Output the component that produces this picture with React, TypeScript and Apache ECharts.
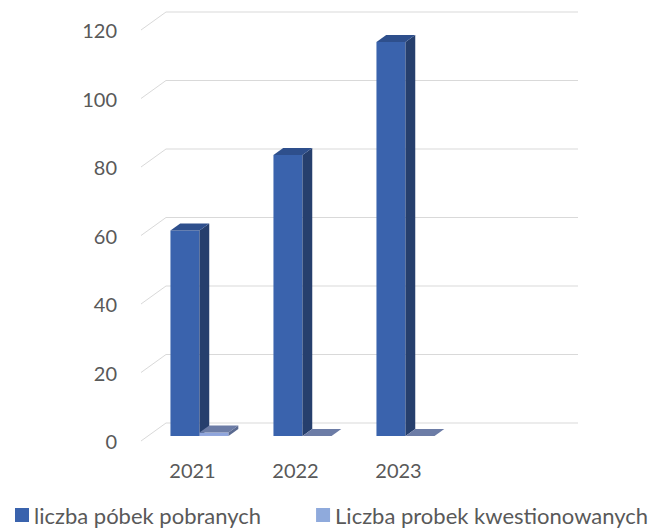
import React, { useEffect, useRef } from 'react';
import * as echarts from 'echarts';

const categories = ['2021', '2022', '2023', ''];
const seriesNames = ['liczba póbek pobranych', 'Liczba probek kwestionowanych'];
const pobrane = [60, 82, 115];
const kwestionowane = [1, 0, 0];
const yTicks = [0, 20, 40, 60, 80, 100, 120];

const DX = 25;
const DY = -18;
const D0 = 0.28;
const D1 = 0.67;
const FONT = 'Lato';

type Faces = { front: string; side: string; top: string };

function make3DBar(faces: Faces, slot: number) {
  return (params: any, api: any) => {
    const idx = api.value(0);
    const val = api.value(1);
    const band = api.size([1, 0])[0];
    const c = api.coord([idx, val]);
    const b = api.coord([idx, 0]);
    const w = band * 0.282;
    const x0 = c[0] + (slot === 0 ? -w : 0);
    const x1 = x0 + w;
    const yt = c[1];
    const yb = b[1];
    const ax = D0 * DX, ay = D0 * DY;
    const bx = D1 * DX, by = D1 * DY;
    const children: any[] = [];
    if (yb - yt > 0.5) {
      children.push({
        type: 'polygon',
        shape: { points: [[x0 + ax, yt + ay], [x1 + ax, yt + ay], [x1 + ax, yb + ay], [x0 + ax, yb + ay]] },
        style: { fill: faces.front },
      });
      children.push({
        type: 'polygon',
        shape: { points: [[x1 + ax, yt + ay], [x1 + bx, yt + by], [x1 + bx, yb + by], [x1 + ax, yb + ay]] },
        style: { fill: faces.side },
      });
    }
    children.push({
      type: 'polygon',
      shape: { points: [[x0 + ax, yt + ay], [x1 + ax, yt + ay], [x1 + bx, yt + by], [x0 + bx, yt + by]] },
      style: { fill: faces.top },
    });
    return { type: 'group', children };
  };
}

function gridRender(params: any, api: any) {
  const v = api.value(1);
  const cs = params.coordSys;
  const left = cs.x;
  const right = cs.x + cs.width;
  const y = api.coord([0, v])[1];
  const st = { stroke: '#d9d9d9', lineWidth: 1 };
  return {
    type: 'group',
    children: [
      { type: 'line', shape: { x1: left, y1: y, x2: left + DX, y2: y + DY }, style: st },
      { type: 'line', shape: { x1: left + DX, y1: y + DY, x2: right + DX, y2: y + DY }, style: st },
    ],
  };
}

export default function App() {
  const ref = useRef<HTMLDivElement>(null);
  useEffect(() => {
    document.body.style.margin = '0';
    const chart = echarts.init(ref.current!, null, { renderer: 'svg' });
    chart.setOption({
      animation: false,
      backgroundColor: '#ffffff',
      grid: { left: 141, right: 103, top: 30, bottom: 90 },
      legend: {
        data: seriesNames,
        left: 15,
        top: 504,
        padding: 0,
        icon: 'rect',
        itemWidth: 14,
        itemHeight: 14,
        itemGap: 55,
        textStyle: { fontFamily: FONT, fontSize: 22, lineHeight: 22, color: '#595959' },
      },
      xAxis: {
        type: 'category',
        data: categories,
        axisLine: { show: false },
        axisTick: { show: false },
        axisLabel: { fontFamily: FONT, fontSize: 20, color: '#595959', margin: 19 },
        splitLine: { show: false },
      },
      yAxis: {
        type: 'value',
        min: 0,
        max: 120,
        interval: 20,
        axisLine: { show: false },
        axisTick: { show: false },
        splitLine: { show: false },
        axisLabel: { fontFamily: FONT, fontSize: 20, color: '#595959', margin: 24 },
      },
      series: [
        {
          type: 'custom',
          name: 'grid',
          renderItem: gridRender,
          data: yTicks.map((v) => [0, v]),
          silent: true,
          z: 1,
        },
        {
          type: 'custom',
          name: seriesNames[0],
          renderItem: make3DBar({ front: '#3a63ad', side: '#263f6d', top: '#2e4f8c' }, 0),
          itemStyle: { color: '#3a63ad' },
          data: pobrane.map((v, i) => [i, v]),
          z: 2,
        },
        {
          type: 'custom',
          name: seriesNames[1],
          renderItem: make3DBar({ front: '#8fa5dc', side: '#5a6a90', top: '#6c7ca6' }, 1),
          itemStyle: { color: '#8faadc' },
          data: kwestionowane.map((v, i) => [i, v]),
          z: 3,
        },
      ],
    });
    return () => chart.dispose();
  }, []);
  return <div ref={ref} style={{ width: 656, height: 531 }} />;
}
